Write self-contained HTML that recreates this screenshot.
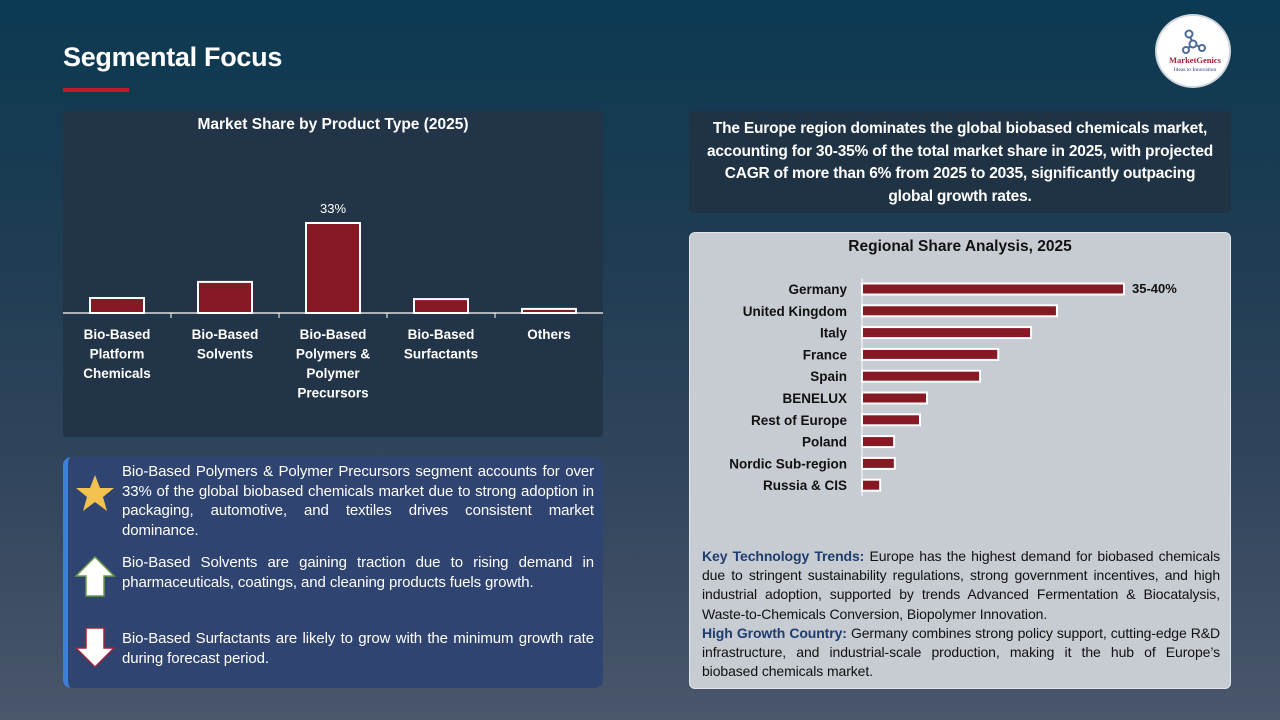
<!DOCTYPE html>
<html><head><meta charset="utf-8"><style>
*{margin:0;padding:0;box-sizing:border-box}
body{width:1280px;height:720px;overflow:hidden;font-family:"Liberation Sans",sans-serif;background:linear-gradient(180deg,#0b3a52 0%,#1f3c52 35%,#34475e 70%,#4a566c 100%);position:relative;color:#fff}
.abs{position:absolute}
.title{left:63px;top:42px;font-size:27px;font-weight:bold;letter-spacing:-0.3px}
.uline{left:63px;top:88px;width:66px;height:4px;background:#c0192c}
.logo{left:1155px;top:14px;width:76px;height:74px;border-radius:50%;background:#fff;border:2px solid #d0d6dc}
.panel1{left:63px;top:111px;width:540px;height:326px;background:#223447;border-radius:4px}
.box{left:689px;top:111px;width:542px;height:102px;background:#1f3344;border-radius:4px;font-weight:bold;font-size:15.5px;text-align:center;line-height:22.5px;padding:7px 14px 0;letter-spacing:-0.2px}
.panel2{left:689px;top:232px;width:542px;height:457px;background:#c7cbd2;border-radius:6px;border:1px solid #e2e5ea}
.notes{left:63px;top:457px;width:540px;height:231px;background:#2f4470;border-radius:8px;border-left:5px solid #3d7fd9}
.np{position:absolute;left:54px;width:472px;font-size:15px;line-height:19.5px;text-align:justify;color:#fff;letter-spacing:-0.1px}
.trend{position:absolute;left:12px;top:314px;width:518px;font-size:14px;line-height:19.2px;color:#111;text-align:justify;letter-spacing:-0.1px}
.trend b{color:#1f3d70}
</style></head><body>
<div class="abs title">Segmental Focus</div>
<div class="abs uline"></div>
<div class="abs logo">
<svg width="76" height="74" viewBox="0 0 76 74"><g stroke="#4a6a9a" stroke-width="2" fill="none"><circle cx="32" cy="18" r="3.5"/><circle cx="36" cy="28" r="3.5"/><circle cx="29" cy="34" r="3"/><circle cx="45" cy="32" r="3"/><path d="M33 21l2 4M34 30l-3 2M39 29l4 2"/></g>
<text x="38" y="47" text-anchor="middle" font-family="Liberation Serif,serif" font-size="8.5" fill="#a0243a" font-weight="bold">MarketGenics</text>
<text x="38" y="55" text-anchor="middle" font-family="Liberation Serif,serif" font-size="5.5" fill="#2a3f7a">Ideas to Innovation</text></svg></div>

<div class="abs panel1">
<svg id="c1" width="540" height="326"></svg></div>

<div class="abs box">The Europe region dominates the global biobased chemicals market, accounting for 30-35% of the total market share in 2025, with projected CAGR of more than 6% from 2025 to 2035, significantly outpacing global growth rates.</div>

<div class="abs panel2">
<svg id="c2" width="540" height="300" class="abs" style="left:0;top:0"></svg>
<div class="trend"><b>Key Technology Trends:</b> Europe has the highest demand for biobased chemicals due to stringent sustainability regulations, strong government incentives, and high industrial adoption, supported by trends Advanced Fermentation &amp; Biocatalysis, Waste-to-Chemicals Conversion, Biopolymer Innovation.<br><b>High Growth Country:</b> Germany combines strong policy support, cutting-edge R&amp;D infrastructure, and industrial-scale production, making it the hub of Europe’s biobased chemicals market.</div>
</div>

<div class="abs notes">
<svg class="abs" style="left:6px;top:16px" width="42" height="40"><polygon points="21,2 26,15 40,15 29,24 33,38 21,29 9,38 13,24 2,15 16,15" fill="#f2c14e"/></svg>
<div class="np" style="top:5px">Bio-Based Polymers &amp; Polymer Precursors segment accounts for over 33% of the global biobased chemicals market due to strong adoption in packaging, automotive, and textiles drives consistent market dominance.</div>
<svg class="abs" style="left:6px;top:99px" width="42" height="42"><polygon points="21,1 40,20 30,20 30,40 12,40 12,20 2,20" fill="#fff" stroke="#6a9a4a" stroke-width="1.5"/></svg>
<div class="np" style="top:96px">Bio-Based Solvents are gaining traction due to rising demand in pharmaceuticals, coatings, and cleaning products fuels growth.</div>
<svg class="abs" style="left:6px;top:170px" width="42" height="42"><polygon points="12,1 30,1 30,21 40,21 21,40 2,21 12,21" fill="#fff" stroke="#a0243a" stroke-width="1.5"/></svg>
<div class="np" style="top:172px">Bio-Based Surfactants are likely to grow with the minimum growth rate during forecast period.</div>
</div>

<script>
const catLabels=[["Bio-Based","Platform","Chemicals"],["Bio-Based","Solvents"],["Bio-Based","Polymers &","Polymer","Precursors"],["Bio-Based","Surfactants"],["Others"]];
const catValues=[5.5,11.4,33,5.1,1.5];
const catPrinted=["","","33%","",""];
const regions=["Germany","United Kingdom","Italy","France","Spain","BENELUX","Rest of Europe","Poland","Nordic Sub-region","Russia & CIS"];
const regionValues=[37.5,27.9,24.2,19.5,16.9,9.3,8.3,4.6,4.7,2.6];
const regionPrinted=["35-40%","","","","","","","","",""];
const NS="http://www.w3.org/2000/svg";
function mk(p,t,a,txt){const e=document.createElementNS(NS,t);for(const k in a)e.setAttribute(k,a[k]);if(txt!==undefined)e.textContent=txt;p.appendChild(e);return e;}
(function(){
const s=document.getElementById('c1');
const base=202,band=108,x0=0,yS=v=>v*(90/33),bw=54;
const t=mk(s,'text',{x:270,y:18,'text-anchor':'middle','font-size':15.5,'font-weight':'bold',fill:'#fff'},"Market Share by Product Type (2025)");

const ax=mk(s,'line',{x1:0,y1:base,x2:540,y2:base,stroke:'#fff','stroke-width':1.3});

catValues.forEach((v,i)=>{
 const cx=x0+band*i+band/2,h=yS(v);
 if(i>0){const tk=mk(s,'line',{x1:band*i,y1:base,x2:band*i,y2:base+5,stroke:'#fff'});}
 const r=mk(s,'rect',{x:cx-bw/2,y:base-h,width:bw,height:h,fill:'#851a25',stroke:'#fff','stroke-width':2});
 
 if(catPrinted[i]){const l=mk(s,'text',{x:cx,y:base-h-10,'text-anchor':'middle','font-size':13,fill:'#fff'},catPrinted[i]);}
 catLabels[i].forEach((ln,j)=>{const l=mk(s,'text',{x:cx,y:base+26+j*19.5,'text-anchor':'middle','font-size':13.5,'font-weight':'bold',fill:'#fff'},ln);});
});
})();
(function(){
const s=document.getElementById('c2');
const ax0=172,y0=56,step=21.8,bh=11,xS=v=>v*(262/37.5);
const t=mk(s,'text',{x:270,y:18,'text-anchor':'middle','font-size':15.5,'font-weight':'bold',fill:'#111'},"Regional Share Analysis, 2025");

const ax=mk(s,'line',{x1:ax0,y1:y0-11,x2:ax0,y2:y0+step*9+11,stroke:'#fff','stroke-width':1});

regions.forEach((r,i)=>{
 const cy=y0+step*i,w=xS(regionValues[i]);
 const b=mk(s,'rect',{x:ax0,y:cy-bh/2,width:w,height:bh,fill:'#851a25',stroke:'#fff','stroke-width':2});
 
 const l=mk(s,'text',{x:ax0-15,y:cy+5,'text-anchor':'end','font-size':13.5,'font-weight':'bold',fill:'#111'},r);
 
 if(regionPrinted[i]){const v=mk(s,'text',{x:ax0+w+8,y:cy+4,'font-size':13,'font-weight':'bold',fill:'#111'},regionPrinted[i]);}
});
})();
</script>
</body></html>
